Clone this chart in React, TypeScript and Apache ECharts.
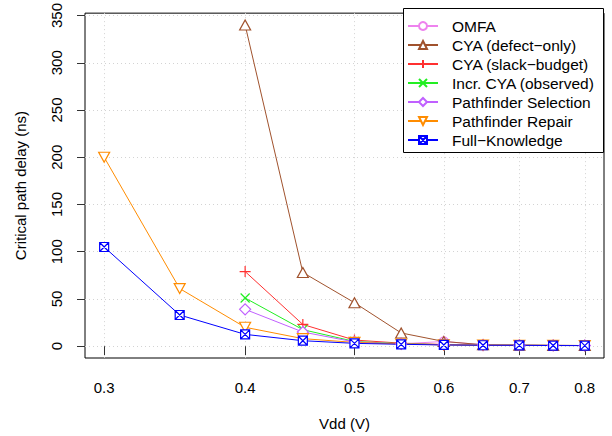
import React, { useEffect, useRef } from "react";
import * as echarts from "echarts";

const vdd = [0.3, 0.35, 0.4, 0.45, 0.5, 0.55, 0.6, 0.65, 0.7, 0.75, 0.8];
const xTicks = [0.3, 0.4, 0.5, 0.6, 0.7, 0.8];
const yTicks = [0, 50, 100, 150, 200, 250, 300, 350];

const omfa = [null, null, null, null, 4, 2.5, 5, 1.5, 1, 0.8, 0.7];
const cyaDefect = [null, null, 340, 78, 46, 14, 5, 1.5, 1, 0.8, 0.7];
const cyaSlack = [null, null, 79, 23, 6.5, 3.2, 1.8, 1.3, 1, 0.8, 0.7];
const incrCya = [null, null, 51, 17.5, 5, 2.6, 1.6, 1.2, 1, 0.8, 0.7];
const pfSel = [null, null, 39, 15, 4.5, 2.4, 1.5, 1.2, 1, 0.8, 0.7];
const pfRep = [200, 61, 20, 8, 4, 2.3, 1.4, 1.1, 0.9, 0.8, 0.7];
const fullK = [105, 33, 12.5, 5.8, 3, 2, 1.3, 1, 0.9, 0.7, 0.6];

const seriesDefs = [
  { name: "OMFA", values: omfa, color: "#EE82EE", symbol: "circle", size: 9 },
  { name: "CYA (defect\u2212only)", values: cyaDefect, color: "#A0522D", symbol: "path://M5,0L10,8.66L0,8.66Z", size: [11, 10] },
  { name: "CYA (slack\u2212budget)", values: cyaSlack, color: "#FF3030", symbol: "path://M5,0L5,10M0,5L10,5", size: 11 },
  { name: "Incr. CYA (observed)", values: incrCya, color: "#22EE22", symbol: "path://M0,0L10,10M10,0L0,10", size: 9 },
  { name: "Pathfinder Selection", values: pfSel, color: "#C060FF", symbol: "path://M5,0L10,5L5,10L0,5Z", size: 11 },
  { name: "Pathfinder Repair", values: pfRep, color: "#FF8C00", symbol: "path://M0,0L10,0L5,8.66Z", size: [11, 10] },
  { name: "Full\u2212Knowledge", values: fullK, color: "#0000FF", symbol: "path://M0,0L10,0L10,10L0,10Z M0,0L10,10 M10,0L0,10", size: 9 },
];

const FONT = "'Liberation Sans', Arial, Helvetica, sans-serif";

export default function App() {
  const ref = useRef<HTMLDivElement>(null);
  useEffect(() => {
    if (!ref.current) return;
    const chart = echarts.init(ref.current, null, { renderer: "svg" });
    const series = seriesDefs.map((d) => ({
      name: d.name,
      type: "line",
      data: vdd
        .map((x, i) => (d.values[i] == null ? null : [x, d.values[i]]))
        .filter((p) => p !== null),
      symbol: d.symbol,
      symbolSize: d.size,
      showSymbol: true,
      lineStyle: { color: d.color, width: 1 },
      itemStyle: { color: "#fff", borderColor: d.color, borderWidth: 1.2 },
      emphasis: { disabled: true },
    }));
    const legends = seriesDefs.map((d, i) => ({
      orient: "vertical",
      left: 407,
      top: 18 + i * 19,
      padding: 0,
      itemWidth: 30,
      itemHeight: 10,
      itemGap: 0,
      z: 12,
      selectedMode: false,
      textStyle: {
        fontSize: 15.5,
        color: "#000",
        fontFamily: FONT,
        padding: [0, 0, 0, 9],
      },
      data: [d.name],
    }));
    chart.setOption({
      animation: false,
      textStyle: { fontFamily: FONT },
      grid: {
        left: 85,
        right: 8,
        top: 8,
        bottom: 78,
        show: true,
        borderColor: "#000",
        borderWidth: 1,
        backgroundColor: "transparent",
      },
      xAxis: {
        type: "log",
        logBase: 10,
        min: 0.2885,
        max: 0.832,
        name: "Vdd (V)",
        nameLocation: "middle",
        nameGap: 58,
        nameTextStyle: { fontSize: 15, color: "#000", fontFamily: FONT },
        axisLine: { show: false },
        axisTick: {
          show: true,
          customValues: xTicks,
          length: 9,
          lineStyle: { color: "#333", width: 1 },
        },
        axisLabel: {
          customValues: xTicks,
          formatter: (v: number) => v.toFixed(1),
          fontSize: 15,
          color: "#000",
          margin: 22,
          fontFamily: FONT,
        },
        splitLine: {
          show: true,
          lineStyle: { color: "#d3d3d3", type: [1, 3], width: 1 },
        },
        minorTick: { show: false },
        minorSplitLine: { show: false },
      },
      yAxis: {
        type: "value",
        min: -12.5,
        max: 352.5,
        name: "Critical path delay (ns)",
        nameLocation: "middle",
        nameGap: 57,
        nameTextStyle: { fontSize: 15, color: "#000", fontFamily: FONT },
        axisLine: { show: false },
        axisTick: {
          show: true,
          customValues: yTicks,
          length: 8,
          lineStyle: { color: "#333", width: 1 },
        },
        axisLabel: {
          customValues: yTicks,
          rotate: 90,
          align: "center",
          verticalAlign: "bottom",
          fontSize: 15,
          color: "#000",
          margin: 21,
          fontFamily: FONT,
        },
        splitLine: {
          show: true,
          lineStyle: { color: "#d3d3d3", type: [1, 3], width: 1 },
        },
      },
      legend: legends,
      graphic: [
        {
          type: "rect",
          z: 10,
          shape: { x: 403.5, y: 8.5, width: 200, height: 144 },
          style: { fill: "#fff", stroke: "#000", lineWidth: 1 },
        },
      ],
      series,
    });
    return () => chart.dispose();
  }, []);
  return (
    <div
      ref={ref}
      style={{ position: "absolute", left: 0, top: 0, width: 612, height: 436 }}
    />
  );
}
